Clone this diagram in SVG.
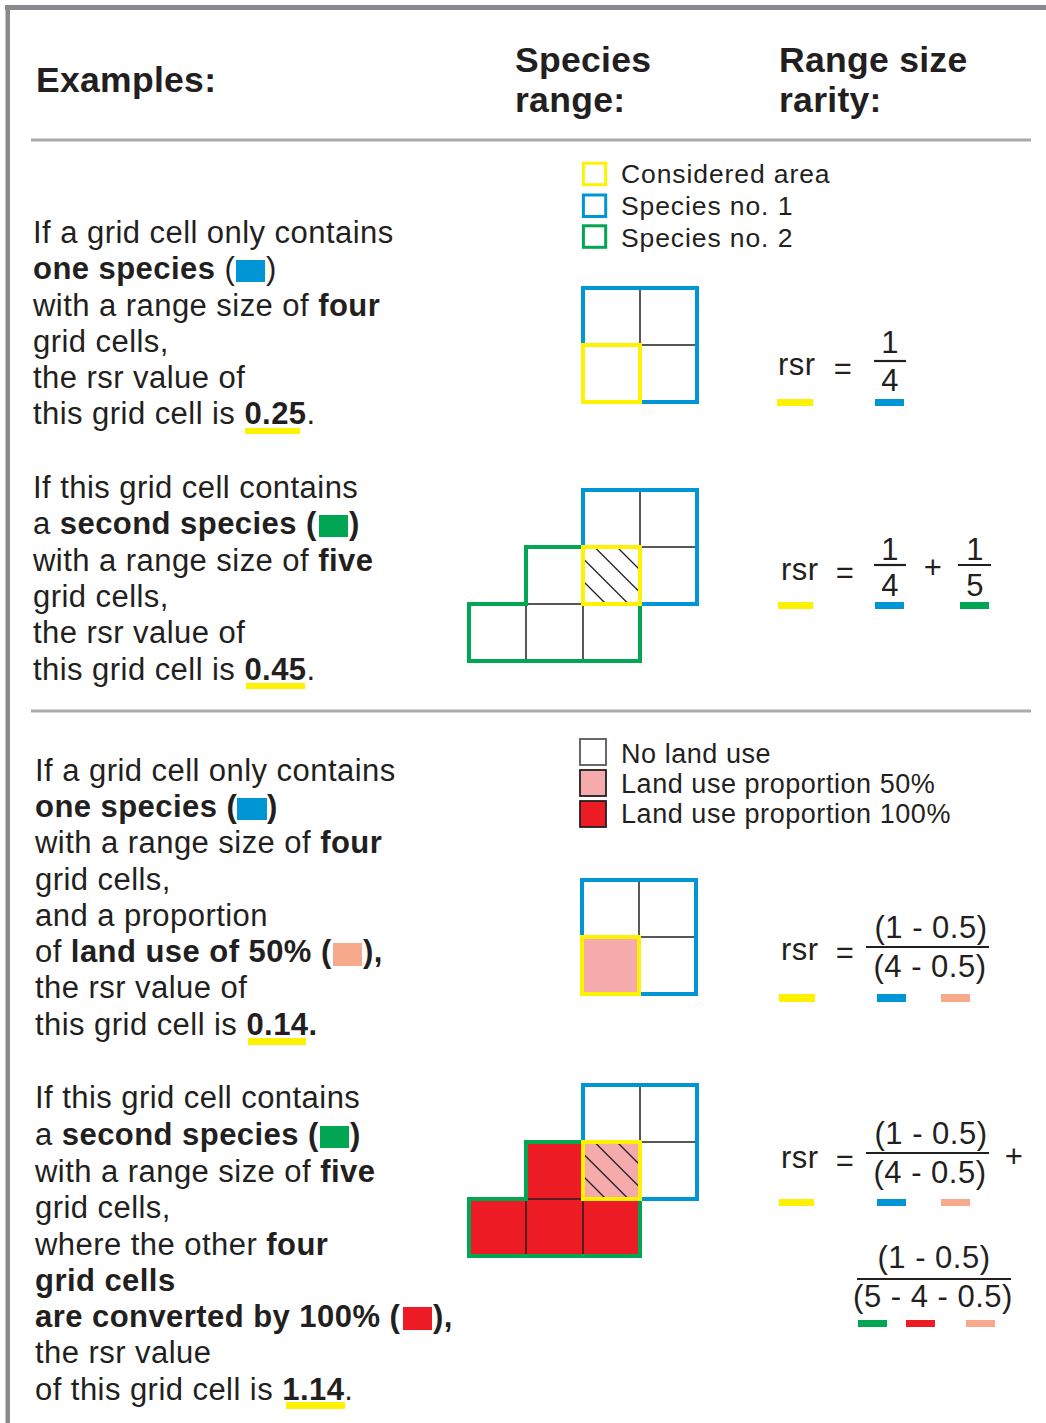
<svg xmlns="http://www.w3.org/2000/svg" width="1046" height="1423" viewBox="0 0 1046 1423">
<style>
text{font-family:"Liberation Sans",Arial,sans-serif;fill:#231f20}
.h{font-size:35.5px;font-weight:bold;letter-spacing:0.3px}
.t{font-size:31px;letter-spacing:0.45px}
.b{font-weight:bold}
.lg{font-size:26.5px;letter-spacing:0.9px}
.lg2{font-size:27px;letter-spacing:0.55px}
.f{font-size:31px;letter-spacing:0.5px}
.m{text-anchor:middle}
.sep{stroke:#a9aaac;stroke-width:3}
.in{stroke:#231f20;stroke-width:1.5;fill:none}
.bl{stroke:#0096d6;stroke-width:4;fill:none}
.gr{stroke:#00a651;stroke-width:4;fill:none}
.ye{stroke:#fff200;stroke-width:4;fill:none}
.ha{stroke:#231f20;stroke-width:1.3}
.bar{stroke:#231f20;stroke-width:2.2}
.cY{fill:#fff200}.cB{fill:#0096d6}.cG{fill:#00a651}.cR{fill:#ed1c24}.cS{fill:#f7a98b}.cP{fill:#f5aaac}
</style>

<g id="frame">
<rect x="5" y="5" width="1041" height="5" fill="#898a8d"/>
<rect x="5.5" y="5" width="4.5" height="1418" fill="#898a8d"/>
<line class="sep" x1="31" y1="140" x2="1031" y2="140"/>
<line class="sep" x1="31" y1="711" x2="1031" y2="711"/>
</g>

<g id="header">
<text class="h" x="36" y="92">Examples:</text>
<text class="h" x="515" y="72">Species</text>
<text class="h" x="515" y="112">range:</text>
<text class="h" x="779" y="72">Range size</text>
<text class="h" x="779" y="112">rarity:</text>
</g>

<g id="text1">
<text class="t" x="33" y="243">If a grid cell only contains</text>
<text class="t" x="33" y="279"><tspan class="b">one species </tspan>(</text>
<rect class="cB" x="236" y="260" width="29" height="22"/>
<text class="t" x="266" y="279">)</text>
<text class="t" x="33" y="316">with a range size of <tspan class="b">four</tspan></text>
<text class="t" x="33" y="352">grid cells,</text>
<text class="t" x="33" y="388">the rsr value of</text>
<text class="t" x="33" y="424">this grid cell is <tspan class="b">0.25</tspan>.</text>
<rect class="cY" x="245" y="428" width="55" height="6"/>
</g>

<g id="text2">
<text class="t" x="33" y="498">If this grid cell contains</text>
<text class="t" x="33" y="534">a <tspan class="b">second species (</tspan></text>
<rect class="cG" x="319" y="515" width="29" height="22"/>
<text class="t b" x="349" y="534">)</text>
<text class="t" x="33" y="571">with a range size of <tspan class="b">five</tspan></text>
<text class="t" x="33" y="607">grid cells,</text>
<text class="t" x="33" y="643">the rsr value of</text>
<text class="t" x="33" y="680">this grid cell is <tspan class="b">0.45</tspan>.</text>
<rect class="cY" x="246" y="683" width="59" height="6"/>
</g>

<g id="text3">
<text class="t" x="35" y="781">If a grid cell only contains</text>
<text class="t b" x="35" y="817">one species (</text>
<rect class="cB" x="237" y="798" width="30" height="22"/>
<text class="t b" x="267" y="817">)</text>
<text class="t" x="35" y="853">with a range size of <tspan class="b">four</tspan></text>
<text class="t" x="35" y="890">grid cells,</text>
<text class="t" x="35" y="926">and a proportion</text>
<text class="t" x="35" y="962">of <tspan class="b">land use of 50% (</tspan></text>
<rect class="cS" x="333" y="943" width="29" height="23"/>
<text class="t b" x="363" y="962">),</text>
<text class="t" x="35" y="998">the rsr value of</text>
<text class="t" x="35" y="1035">this grid cell is <tspan class="b">0.14.</tspan></text>
<rect class="cY" x="248" y="1038" width="58" height="7"/>
</g>

<g id="text4">
<text class="t" x="35" y="1108">If this grid cell contains</text>
<text class="t" x="35" y="1145">a <tspan class="b">second species (</tspan></text>
<rect class="cG" x="320" y="1126" width="29" height="22"/>
<text class="t b" x="350" y="1145">)</text>
<text class="t" x="35" y="1182">with a range size of <tspan class="b">five</tspan></text>
<text class="t" x="35" y="1218">grid cells,</text>
<text class="t" x="35" y="1255">where the other <tspan class="b">four</tspan></text>
<text class="t b" x="35" y="1291">grid cells</text>
<text class="t b" x="35" y="1327">are converted by 100% (</text>
<rect class="cR" x="403" y="1307" width="29" height="23"/>
<text class="t b" x="433" y="1327">),</text>
<text class="t" x="35" y="1363">the rsr value</text>
<text class="t" x="35" y="1400">of this grid cell is <tspan class="b">1.14</tspan>.</text>
<rect class="cY" x="286" y="1402" width="59" height="7"/>
</g>

<g id="legend1">
<rect x="583.4" y="163.2" width="22.3" height="21.5" fill="none" stroke="#fff200" stroke-width="3"/>
<rect x="583.4" y="195" width="22.3" height="21.5" fill="none" stroke="#0096d6" stroke-width="3"/>
<rect x="583.4" y="225.8" width="22.3" height="21.5" fill="none" stroke="#00a651" stroke-width="3"/>
<text class="lg" x="621" y="183">Considered area</text>
<text class="lg" x="621" y="215">Species no. 1</text>
<text class="lg" x="621" y="247">Species no. 2</text>
</g>

<g id="legend2">
<rect x="580" y="739" width="26" height="26" fill="#fff" stroke="#58595b" stroke-width="1.8"/>
<rect x="580" y="770" width="26" height="26" fill="#f5aaac" stroke="#231f20" stroke-width="1.8"/>
<rect x="580" y="801" width="26" height="26" fill="#ed1c24" stroke="#231f20" stroke-width="1.8"/>
<text class="lg2" x="621" y="763">No land use</text>
<text class="lg2" x="621" y="793">Land use proportion 50%</text>
<text class="lg2" x="621" y="823">Land use proportion 100%</text>
</g>

<g id="grid1">
<line class="in" x1="640" y1="288" x2="640" y2="402"/>
<line class="in" x1="583" y1="345" x2="697" y2="345"/>
<rect class="bl" x="583" y="288" width="114" height="114"/>
<rect class="ye" x="583" y="345" width="57" height="57"/>
</g>

<g id="grid2">
<line class="in" x1="640" y1="490" x2="640" y2="604"/>
<line class="in" x1="583" y1="547" x2="697" y2="547"/>
<line class="in" x1="526" y1="604" x2="640" y2="604"/>
<line class="in" x1="526" y1="604" x2="526" y2="661"/>
<line class="in" x1="583" y1="604" x2="583" y2="661"/>
<g class="ha">
<line x1="594.5" y1="547" x2="640" y2="592.5"/>
<line x1="617" y1="547" x2="640" y2="570"/>
<line x1="583" y1="558.5" x2="628.5" y2="604"/>
<line x1="583" y1="581" x2="606" y2="604"/>
</g>
<rect class="bl" x="583" y="490" width="114" height="114"/>
<path class="gr" d="M526,547 H640 V661 H469 V604 H526 Z"/>
<rect class="ye" x="583" y="547" width="57" height="57"/>
</g>

<g id="grid3">
<rect class="cP" x="582" y="937" width="57" height="57"/>
<line class="in" x1="639" y1="880" x2="639" y2="994"/>
<line class="in" x1="582" y1="937" x2="696" y2="937"/>
<rect class="bl" x="582" y="880" width="114" height="114"/>
<rect class="ye" x="582" y="937" width="57" height="57"/>
</g>

<g id="grid4">
<rect class="cR" x="526" y="1142" width="57" height="57"/>
<rect class="cR" x="469" y="1199" width="171" height="57"/>
<rect class="cP" x="583" y="1142" width="57" height="57"/>
<line class="in" x1="640" y1="1085" x2="640" y2="1199"/>
<line class="in" x1="583" y1="1142" x2="697" y2="1142"/>
<line class="in" x1="526" y1="1199" x2="640" y2="1199"/>
<line class="in" x1="526" y1="1199" x2="526" y2="1256"/>
<line class="in" x1="583" y1="1199" x2="583" y2="1256"/>
<g class="ha">
<line x1="594.5" y1="1142" x2="640" y2="1187.5"/>
<line x1="617" y1="1142" x2="640" y2="1165"/>
<line x1="583" y1="1153.5" x2="628.5" y2="1199"/>
<line x1="583" y1="1176" x2="606" y2="1199"/>
</g>
<rect class="bl" x="583" y="1085" width="114" height="114"/>
<path class="gr" d="M526,1142 H640 V1256 H469 V1199 H526 Z"/>
<rect class="ye" x="583" y="1142" width="57" height="57"/>
</g>

<g id="formula1">
<text class="f" x="778" y="375">rsr</text>
<text class="f m" x="843" y="379">=</text>
<text class="f m" x="890" y="353">1</text>
<line class="bar" x1="874" y1="361" x2="906" y2="361"/>
<text class="f m" x="890" y="391">4</text>
<rect class="cY" x="777" y="399" width="36" height="7"/>
<rect class="cB" x="875" y="399" width="29" height="7"/>
</g>

<g id="formula2">
<text class="f" x="781" y="580">rsr</text>
<text class="f m" x="845" y="583">=</text>
<text class="f m" x="890" y="560">1</text>
<line class="bar" x1="874" y1="565" x2="906" y2="565"/>
<text class="f m" x="890" y="596">4</text>
<text class="f m" x="933" y="578">+</text>
<text class="f m" x="975" y="560">1</text>
<line class="bar" x1="958" y1="565" x2="991" y2="565"/>
<text class="f m" x="975" y="596">5</text>
<rect class="cY" x="778" y="602" width="35" height="7"/>
<rect class="cB" x="875" y="602" width="29" height="7"/>
<rect class="cG" x="960" y="602" width="29" height="7"/>
</g>

<g id="formula3">
<text class="f" x="781" y="960">rsr</text>
<text class="f m" x="845" y="963">=</text>
<text class="f m" x="931" y="938">(1 - 0.5)</text>
<line class="bar" x1="866" y1="947" x2="989" y2="947"/>
<text class="f m" x="930" y="977">(4 - 0.5)</text>
<rect class="cY" x="779" y="994" width="36" height="8"/>
<rect class="cB" x="877" y="994" width="29" height="8"/>
<rect class="cS" x="941" y="994" width="29" height="8"/>
</g>

<g id="formula4">
<text class="f" x="781" y="1168">rsr</text>
<text class="f m" x="845" y="1171">=</text>
<text class="f m" x="931" y="1144">(1 - 0.5)</text>
<line class="bar" x1="866" y1="1153" x2="989" y2="1153"/>
<text class="f m" x="930" y="1183">(4 - 0.5)</text>
<text class="f m" x="1014" y="1167">+</text>
<rect class="cY" x="779" y="1199" width="35" height="7"/>
<rect class="cB" x="877" y="1199" width="29" height="7"/>
<rect class="cS" x="941" y="1199" width="29" height="7"/>
<text class="f m" x="934" y="1268">(1 - 0.5)</text>
<line class="bar" x1="857" y1="1279" x2="1011" y2="1279"/>
<text class="f m" x="933" y="1307">(5 - 4 - 0.5)</text>
<rect class="cG" x="858" y="1320" width="29" height="7"/>
<rect class="cR" x="906" y="1320" width="29" height="7"/>
<rect class="cS" x="966" y="1320" width="29" height="7"/>
</g>
</svg>
